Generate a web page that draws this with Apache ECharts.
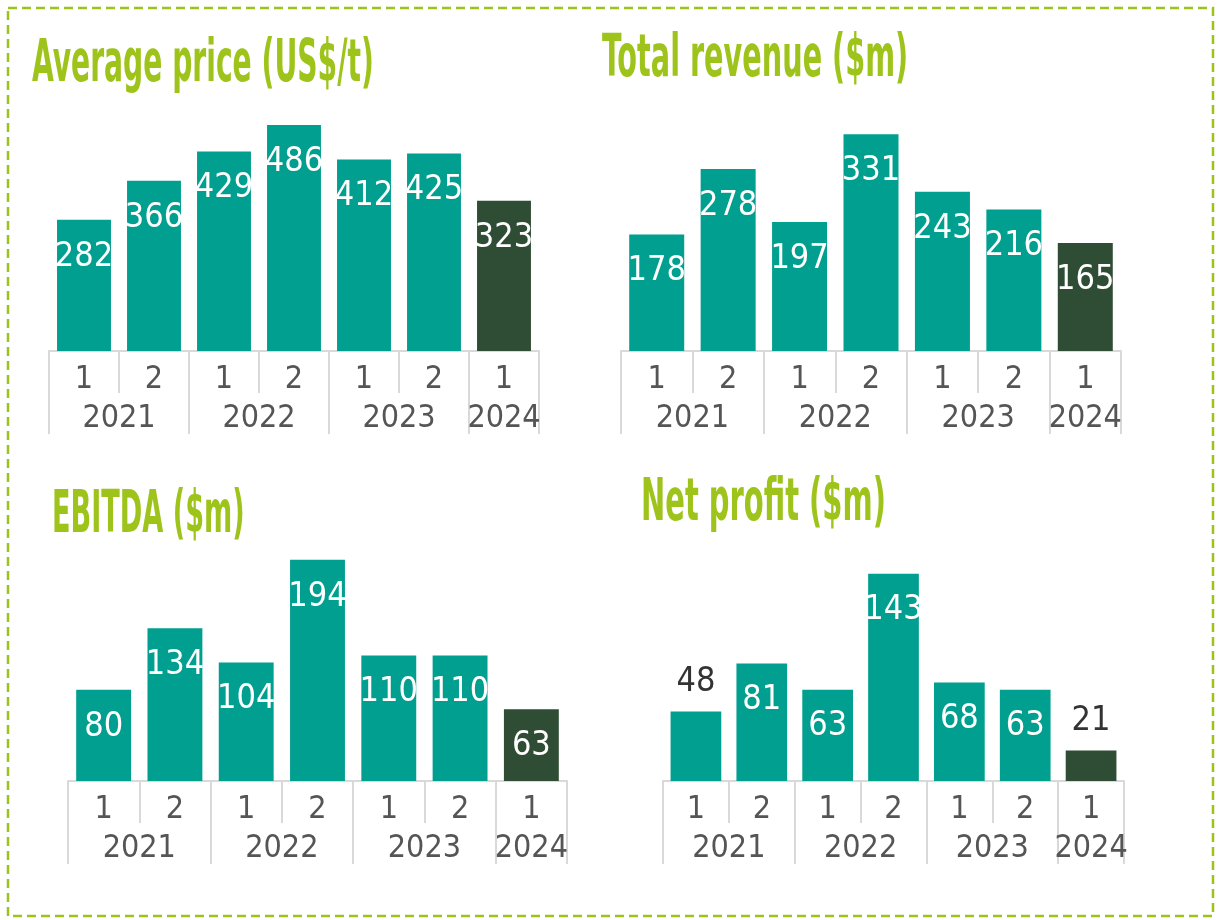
<!DOCTYPE html>
<html>
<head>
<meta charset="utf-8">
<script src="https://cdn.jsdelivr.net/npm/echarts@6/dist/echarts.min.js"></script>
<style>
html,body{margin:0;padding:0;background:#fff;}
#c{width:1218px;height:920px;}
</style>
</head>
<body>
<div id="c"></div>
<script>
// ---- data ----
const halfLabels = ['1', '2', '1', '2', '1', '2', '1'];
const yearLabels = ['', '', '2021', '', '', '', '2022', '', '', '', '2023', '', '', '2024', ''];
const yearTickIdx = [0, 4, 8, 12, 14];
const avgPrice = [282, 366, 429, 486, 412, 425, 323];
const totalRevenue = [178, 278, 197, 331, 243, 216, 165];
const ebitda = [80, 134, 104, 194, 110, 110, 63];
const netProfit = [48, 81, 63, 143, 68, 63, 21];
const titles = ['Average price (US$/t)', 'Total revenue ($m)', 'EBITDA ($m)', 'Net profit ($m)'];
const outsideLabelIdx = [[], [], [], [0, 6]];

const TEAL = '#009f8f';
const DARK = '#2f4c34';
const LIME = '#9ec41b';
const GRAY_LINE = '#d9d9d9';
const LABEL_GRAY = '#555555';
const NARROW = '"DejaVu Sans Condensed", "Liberation Sans Narrow", sans-serif';

const panels = [
  {data: avgPrice, left: 49, right: 1218 - 539, top: 72, bottom: 920 - 351, max: 600, title: {x: 32, y: 66, sx: 0.54}},
  {data: totalRevenue, left: 621, right: 1218 - 1121, top: 89, bottom: 920 - 351, max: 400, title: {x: 602, y: 61, sx: 0.55}},
  {data: ebitda, left: 68, right: 1218 - 567, top: 496, bottom: 920 - 781, max: 250, title: {x: 52, y: 517, sx: 0.52}},
  {data: netProfit, left: 663, right: 1218 - 1124, top: 491, bottom: 920 - 781, max: 200, title: {x: 641, y: 505, sx: 0.555}}
];

const grid = [], xAxis = [], yAxis = [], series = [], graphic = [];

panels.forEach((p, i) => {
  grid.push({left: p.left, right: p.right, top: p.top, bottom: p.bottom, containLabel: false});
  xAxis.push({
    type: 'category', gridIndex: i, position: 'bottom', data: halfLabels,
    axisLine: {show: true, lineStyle: {color: GRAY_LINE, width: 2}},
    axisTick: {show: true, length: 42, alignWithLabel: false, lineStyle: {color: GRAY_LINE, width: 2}},
    axisLabel: {show: true, interval: 0, margin: 29, verticalAlign: 'middle', color: LABEL_GRAY, fontSize: 32, fontFamily: NARROW},
    splitLine: {show: false}
  });
  xAxis.push({
    type: 'category', gridIndex: i, position: 'bottom', offset: 0, boundaryGap: false, data: yearLabels,
    axisLine: {show: false},
    axisTick: {show: true, length: 83, interval: (idx) => yearTickIdx.includes(idx), lineStyle: {color: GRAY_LINE, width: 2}},
    axisLabel: {show: true, interval: 0, margin: 68, verticalAlign: 'middle', color: LABEL_GRAY, fontSize: 32, fontFamily: NARROW},
    splitLine: {show: false}
  });
  yAxis.push({type: 'value', gridIndex: i, min: 0, max: p.max, show: false, splitLine: {show: false}});
  series.push({
    type: 'bar', xAxisIndex: i * 2, yAxisIndex: i, barWidth: '77%',
    data: p.data.map((v, j) => {
      const item = {value: v, itemStyle: {color: j === p.data.length - 1 ? DARK : TEAL}};
      if (outsideLabelIdx[i].includes(j)) {
        item.label = {position: 'top', distance: 12, color: '#333333'};
      }
      return item;
    }),
    label: {
      show: true, position: 'insideTop', distance: 20, color: '#ffffff',
      fontSize: 34, lineHeight: 34, fontFamily: NARROW
    },
    silent: true, animation: false
  });
  graphic.push({
    type: 'text', x: p.title.x, y: p.title.y, scaleX: p.title.sx, scaleY: 1,
    style: {text: titles[i], fill: LIME, fontSize: 58, fontWeight: 'bold', fontFamily: NARROW, align: 'left', verticalAlign: 'middle'}
  });
});

graphic.push({
  type: 'rect', shape: {x: 8, y: 8, width: 1205, height: 908},
  style: {fill: 'none', stroke: '#9dc31a', lineWidth: 2.5, lineDash: [9, 5]}, z: -1
});

const chart = echarts.init(document.getElementById('c'), null, {renderer: 'canvas'});
chart.setOption({animation: false, grid, xAxis, yAxis, series, graphic});
</script>
</body>
</html>
